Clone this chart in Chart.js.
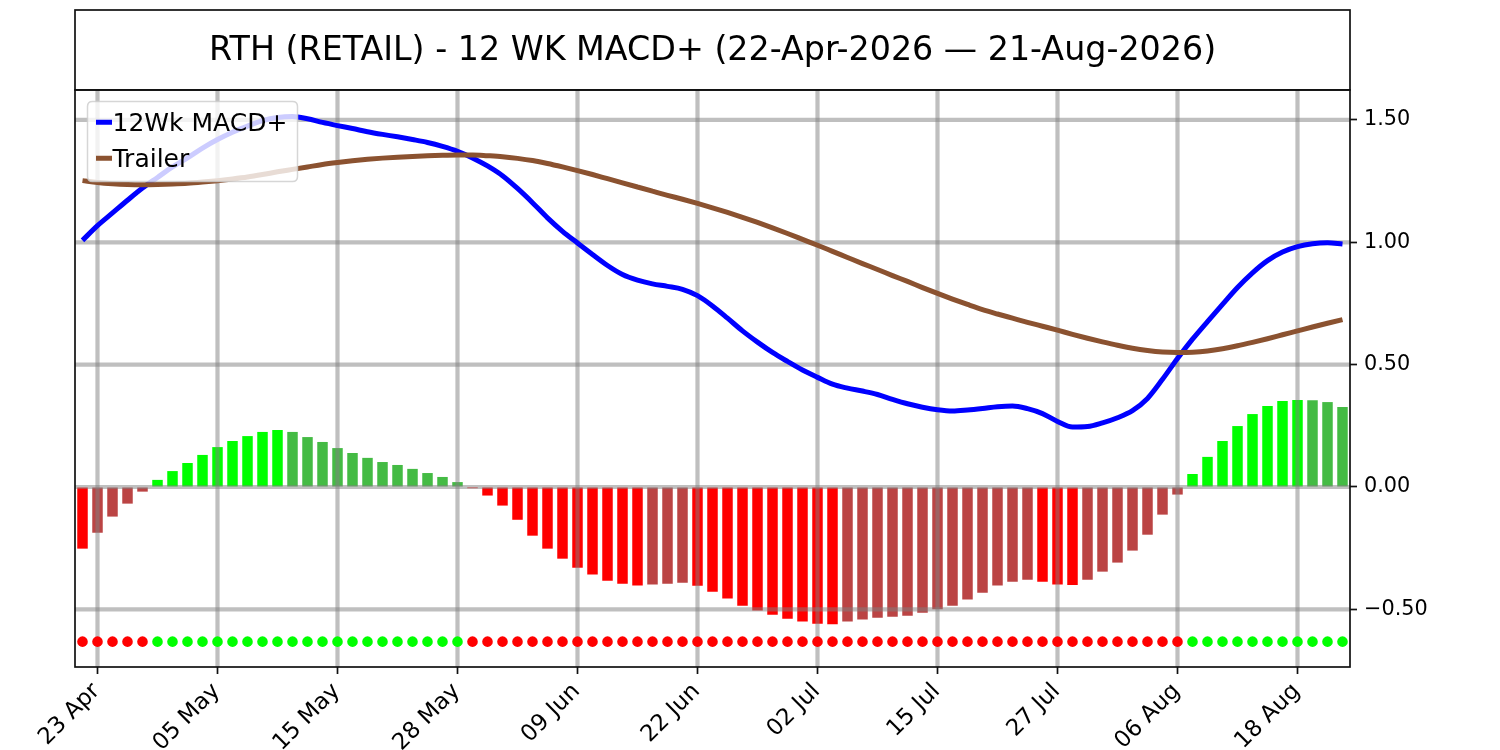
<!DOCTYPE html>
<html>
<head>
<meta charset="utf-8">
<script src="https://cdn.jsdelivr.net/npm/chart.js@4.4.1/dist/chart.umd.min.js"></script>
<style>
  html, body { margin: 0; padding: 0; background: #ffffff; }
  #wrap { width: 1500px; height: 750px; position: relative; }
</style>
</head>
<body>
<div id="wrap"><canvas id="chart"></canvas></div>
<script>
const titleText = 'RTH (RETAIL) - 12 WK MACD+ (22-Apr-2026 \u2014 21-Aug-2026)';

const dates = [
  '22 Apr','23 Apr','24 Apr','27 Apr','28 Apr','29 Apr','30 Apr',
  '01 May','04 May','05 May','06 May','07 May','08 May','11 May','12 May','13 May','14 May','15 May',
  '18 May','19 May','20 May','21 May','22 May','26 May','27 May','28 May','29 May',
  '01 Jun','02 Jun','03 Jun','04 Jun','05 Jun','08 Jun','09 Jun','10 Jun','11 Jun','12 Jun',
  '15 Jun','16 Jun','17 Jun','18 Jun','22 Jun','23 Jun','24 Jun','25 Jun','26 Jun','29 Jun','30 Jun',
  '01 Jul','02 Jul','06 Jul','07 Jul','08 Jul','09 Jul','10 Jul','13 Jul','14 Jul','15 Jul','16 Jul','17 Jul',
  '20 Jul','21 Jul','22 Jul','23 Jul','24 Jul','27 Jul','28 Jul','29 Jul','30 Jul','31 Jul',
  '03 Aug','04 Aug','05 Aug','06 Aug','07 Aug','10 Aug','11 Aug','12 Aug','13 Aug','14 Aug',
  '17 Aug','18 Aug','19 Aug','20 Aug','21 Aug'
];

const tickDates = ['23 Apr','05 May','15 May','28 May','09 Jun','22 Jun','02 Jul','15 Jul','27 Jul','06 Aug','18 Aug'];

const macd = [
  1.008, 1.068, 1.120, 1.172, 1.222, 1.265, 1.308, 1.345, 1.385, 1.420,
  1.450, 1.475, 1.497, 1.510, 1.514, 1.505, 1.490, 1.477, 1.465, 1.452,
  1.441, 1.431, 1.420, 1.408, 1.392, 1.372, 1.345, 1.312, 1.272, 1.220,
  1.162, 1.100, 1.045, 0.997, 0.950, 0.905, 0.868, 0.845, 0.830, 0.820,
  0.808, 0.782, 0.740, 0.690, 0.638, 0.592, 0.550, 0.513, 0.478, 0.448,
  0.420, 0.404, 0.392, 0.378, 0.358, 0.340, 0.326, 0.316, 0.311, 0.315,
  0.321, 0.328, 0.331, 0.320, 0.300, 0.268, 0.245, 0.247, 0.262, 0.283,
  0.312, 0.362, 0.440, 0.525, 0.604, 0.676, 0.746, 0.815, 0.875, 0.925,
  0.960, 0.982, 0.994, 0.998, 0.993
];

const trailer = [
  1.252, 1.244, 1.239, 1.236, 1.235, 1.236, 1.238, 1.241, 1.246, 1.252,
  1.259, 1.267, 1.277, 1.288, 1.298, 1.308, 1.318, 1.326, 1.333, 1.339,
  1.344, 1.348, 1.351, 1.354, 1.356, 1.357, 1.357, 1.354, 1.350, 1.343,
  1.334, 1.322, 1.308, 1.293, 1.277, 1.260, 1.243, 1.226, 1.209, 1.192,
  1.176, 1.159, 1.141, 1.122, 1.102, 1.081, 1.059, 1.036, 1.012, 0.988,
  0.963, 0.938, 0.913, 0.889, 0.864, 0.840, 0.815, 0.791, 0.768, 0.746,
  0.725, 0.707, 0.690, 0.673, 0.657, 0.641, 0.624, 0.608, 0.593, 0.579,
  0.567, 0.558, 0.552, 0.550, 0.551, 0.556, 0.565, 0.577, 0.591, 0.606,
  0.622, 0.638, 0.654, 0.669, 0.684
];

const histogram = [
  -0.252, -0.187, -0.121, -0.068, -0.019, 0.029, 0.065, 0.098, 0.131, 0.163,
  0.188, 0.208, 0.225, 0.233, 0.225, 0.204, 0.184, 0.159, 0.139, 0.119,
  0.102, 0.090, 0.074, 0.057, 0.041, 0.020, -0.005, -0.035, -0.076, -0.134,
  -0.199, -0.252, -0.293, -0.330, -0.358, -0.383, -0.395, -0.403, -0.399, -0.395,
  -0.391, -0.404, -0.428, -0.456, -0.485, -0.505, -0.522, -0.538, -0.550, -0.559,
  -0.561, -0.550, -0.542, -0.534, -0.530, -0.526, -0.514, -0.500, -0.485, -0.460,
  -0.432, -0.403, -0.387, -0.379, -0.387, -0.399, -0.401, -0.379, -0.346, -0.309,
  -0.260, -0.195, -0.113, -0.031, 0.053, 0.123, 0.188, 0.249, 0.298, 0.331,
  0.351, 0.355, 0.354, 0.347, 0.327
];

const signalLevel = -0.632;
const yTickValues = [-0.5, 0, 0.5, 1.0, 1.5];
const yMin = -0.7357;
const yMax = 1.6226;

const BRIGHT_GREEN = '#00ff00';
const DARK_GREEN = '#44bb44';
const BRIGHT_RED = '#ff0000';
const DARK_RED = '#bb4444';
const FONT = 'DejaVu Sans';
const LINE_W = 5;

const barColors = histogram.map((v, i) => {
  const prev = i > 0 ? histogram[i - 1] : v;
  if (v >= 0) return v >= prev ? BRIGHT_GREEN : DARK_GREEN;
  return (i === 0 || v < prev) ? BRIGHT_RED : DARK_RED;
});
const dotColors = histogram.map(v => v >= 0 ? BRIGHT_GREEN : BRIGHT_RED);
const signalRow = histogram.map(() => signalLevel);

// grid drawn above the histogram bars but below lines and dots
const gridOverBars = {
  id: 'gridOverBars',
  afterDatasetDraw(chart, args) {
    const ds = chart.data.datasets[args.index];
    if (ds.type !== 'bar') return;
    const { ctx, chartArea: a, scales: { x, y } } = chart;
    ctx.save();
    ctx.beginPath();
    ctx.rect(a.left, a.top, a.width, a.height);
    ctx.clip();
    ctx.strokeStyle = 'rgba(128,128,128,0.5)';
    ctx.lineWidth = 4.2;
    ctx.lineCap = 'butt';
    x.ticks.forEach(t => {
      const px = x.getPixelForValue(t.value);
      ctx.beginPath(); ctx.moveTo(px, a.top); ctx.lineTo(px, a.bottom); ctx.stroke();
    });
    y.ticks.forEach(t => {
      const py = y.getPixelForValue(t.value);
      ctx.beginPath(); ctx.moveTo(a.left, py); ctx.lineTo(a.right, py); ctx.stroke();
    });
    ctx.restore();
  }
};

const insideLegend = {
  id: 'insideLegend',
  afterDatasetsDraw(chart) {
    const { ctx, chartArea: a } = chart;
    const items = chart.data.datasets.filter(d => d.inLegend);
    const left = a.left + 12.5, top = a.top + 11.5, w = 210, h = 80, r = 5;
    ctx.save();
    ctx.beginPath();
    ctx.moveTo(left + r, top);
    ctx.lineTo(left + w - r, top);
    ctx.quadraticCurveTo(left + w, top, left + w, top + r);
    ctx.lineTo(left + w, top + h - r);
    ctx.quadraticCurveTo(left + w, top + h, left + w - r, top + h);
    ctx.lineTo(left + r, top + h);
    ctx.quadraticCurveTo(left, top + h, left, top + h - r);
    ctx.lineTo(left, top + r);
    ctx.quadraticCurveTo(left, top, left + r, top);
    ctx.closePath();
    ctx.fillStyle = 'rgba(255,255,255,0.8)';
    ctx.fill();
    ctx.strokeStyle = 'rgba(204,204,204,0.8)';
    ctx.lineWidth = 1.5;
    ctx.stroke();
    items.forEach((d, i) => {
      const cy = top + 20.8 + i * 36;
      ctx.beginPath();
      ctx.strokeStyle = d.borderColor;
      ctx.lineWidth = LINE_W;
      ctx.lineCap = 'butt';
      ctx.moveTo(left + 8.5, cy);
      ctx.lineTo(left + 24.5, cy);
      ctx.stroke();
      ctx.fillStyle = '#000000';
      ctx.font = '25px "' + FONT + '"';
      ctx.textBaseline = 'alphabetic';
      ctx.textAlign = 'left';
      ctx.fillText(d.label, left + 25, cy + 8.6);
    });
    ctx.restore();
  }
};

const frames = {
  id: 'frames',
  afterDraw(chart) {
    const { ctx, chartArea: a } = chart;
    const t = chart.titleBlock;
    ctx.save();
    ctx.strokeStyle = '#111111';
    ctx.lineWidth = 1.7;
    ctx.strokeRect(a.left, t.top, a.width, a.top - t.top);
    ctx.strokeRect(a.left, a.top, a.width, a.height);
    ctx.restore();
  }
};

Chart.defaults.font.family = FONT;

new Chart(document.getElementById('chart'), {
  type: 'bar',
  data: {
    labels: dates,
    datasets: [
      {
        type: 'bar',
        label: 'Histogram',
        data: histogram,
        backgroundColor: barColors,
        borderWidth: 0,
        barPercentage: 0.7,
        categoryPercentage: 1.0,
        order: 4
      },
      {
        type: 'line',
        label: '12Wk MACD+',
        inLegend: true,
        data: macd,
        borderColor: '#0000ff',
        borderWidth: LINE_W,
        pointRadius: 0,
        cubicInterpolationMode: 'monotone',
        fill: false,
        order: 3
      },
      {
        type: 'line',
        label: 'Trailer',
        inLegend: true,
        data: trailer,
        borderColor: '#8b5230',
        borderWidth: LINE_W,
        pointRadius: 0,
        cubicInterpolationMode: 'monotone',
        fill: false,
        order: 2
      },
      {
        type: 'line',
        label: 'Signal',
        data: signalRow,
        showLine: false,
        pointRadius: 5.3,
        pointBorderWidth: 0,
        pointBackgroundColor: dotColors,
        pointBorderColor: dotColors,
        order: 1
      }
    ]
  },
  options: {
    responsive: true,
    maintainAspectRatio: false,
    devicePixelRatio: 1,
    animation: false,
    events: [],
    layout: { padding: { left: 75, top: 10, right: 0, bottom: 0 } },
    plugins: {
      legend: { display: false },
      tooltip: { enabled: false },
      title: {
        display: true,
        text: titleText,
        fullSize: false,
        color: '#000000',
        font: { family: FONT, size: 33.3, weight: 'normal', lineHeight: 1.2 },
        padding: { top: 21.5, bottom: 18.5 }
      }
    },
    scales: {
      x: {
        type: 'category',
        offset: true,
        grid: {
          display: true,
          drawOnChartArea: false,
          drawTicks: true,
          tickLength: 7,
          tickWidth: 1.7,
          tickColor: '#111111',
          offset: false
        },
        border: { display: false },
        ticks: {
          autoSkip: false,
          minRotation: 45,
          maxRotation: 45,
          padding: 4,
          labelOffset: -1,
          color: '#000000',
          font: { family: FONT, size: 22.9 }
        },
        afterBuildTicks(scale) {
          scale.ticks = scale.ticks.filter(t => tickDates.includes(dates[t.value]));
        },
        afterFit(scale) { scale.height = 83; }
      },
      y: {
        type: 'linear',
        position: 'right',
        min: yMin,
        max: yMax,
        grid: {
          display: true,
          drawOnChartArea: false,
          drawTicks: true,
          tickLength: 7,
          tickWidth: 1.7,
          tickColor: '#111111'
        },
        border: { display: false },
        ticks: {
          padding: 7,
          color: '#000000',
          font: { family: FONT, size: 20.8 },
          callback: v => Number(v).toFixed(2).replace('-', '\u2212')
        },
        afterBuildTicks(scale) {
          scale.ticks = yTickValues.map(v => ({ value: v }));
        },
        afterFit(scale) { scale.width = 150; }
      }
    }
  },
  plugins: [gridOverBars, insideLegend, frames]
});
</script>
</body>
</html>
